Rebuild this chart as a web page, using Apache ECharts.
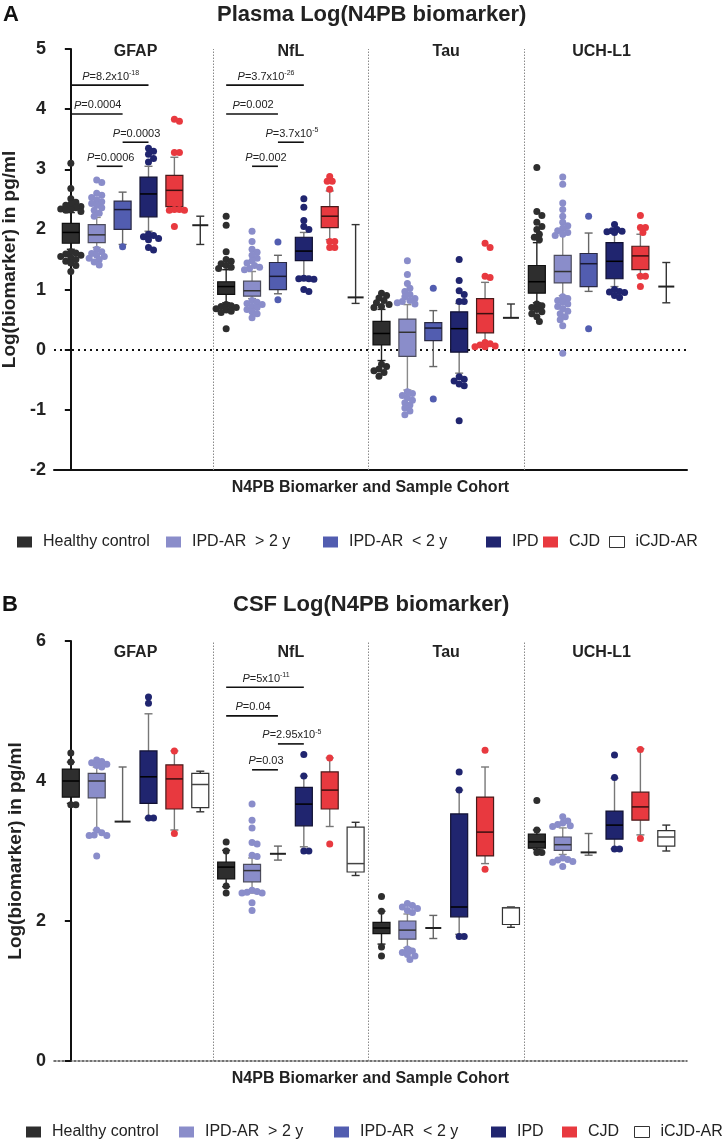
<!DOCTYPE html>
<html><head><meta charset="utf-8">
<script src="https://cdn.jsdelivr.net/npm/echarts@6/dist/echarts.min.js"></script>
<style>html,body{margin:0;padding:0;background:#fff}#c{width:725px;height:1142px}</style>
</head><body><div id="c"></div>
<script>
// ---------------- DATA ----------------
const markers = ['GFAP', 'NfL', 'Tau', 'UCH-L1'];
const cohorts = ['Healthy control', 'IPD-AR  > 2 y', 'IPD-AR  < 2 y', 'IPD', 'CJD', 'iCJD-AR'];
const plasmaTicks = [-2, -1, 0, 1, 2, 3, 4, 5];
const csfTicks = [0, 2, 4, 6];

// box stats per marker: [whiskerLow, Q1, median, Q3, whiskerHigh] (error bars: Q1 = median = Q3 = mean)
const plasmaHealthyBox = [[1.67, 1.77, 1.95, 2.10, 2.28], [0.78, 0.92, 1.05, 1.13, 1.33], [-0.18, 0.08, 0.27, 0.47, 0.67], [0.78, 0.94, 1.13, 1.40, 1.78]];
const plasmaOldBox     = [[1.70, 1.78, 1.91, 2.08, 2.20], [0.85, 0.89, 0.98, 1.14, 1.30], [-0.67, -0.11, 0.29, 0.51, 0.75], [0.90, 1.11, 1.30, 1.57, 2.00]];
const plasmaRecentBox  = [[1.75, 2.00, 2.33, 2.47, 2.62], [0.93, 1.00, 1.22, 1.45, 1.57], [-0.28, 0.15, 0.36, 0.45, 0.65], [0.97, 1.05, 1.43, 1.60, 1.94]];
const plasmaIPDBox     = [[1.97, 2.21, 2.59, 2.87, 3.05], [1.22, 1.48, 1.64, 1.87, 1.95], [-0.39, -0.04, 0.35, 0.63, 0.77], [1.05, 1.18, 1.47, 1.78, 1.95]];
const plasmaCJDBox     = [[2.35, 2.38, 2.65, 2.90, 3.20], [1.83, 2.03, 2.22, 2.38, 2.64], [0.06, 0.28, 0.60, 0.85, 1.12], [1.24, 1.33, 1.56, 1.72, 1.92]];
const plasmaICJDBox    = [[1.75, 2.07, 2.07, 2.07, 2.22], [0.77, 0.87, 0.87, 0.87, 2.08], [0.53, 0.53, 0.53, 0.53, 0.76], [0.78, 1.05, 1.05, 1.05, 1.45]];

const plasmaHealthyDots = [
  [3.10, 2.68, 2.51, 2.45, 2.42, 2.40, 2.38, 2.36, 2.34, 2.33, 2.32, 2.30, 1.63, 1.61, 1.59, 1.57, 1.55, 1.53, 1.50, 1.47, 1.44, 1.40, 1.30],
  [2.22, 2.07, 1.63, 1.50, 1.47, 1.43, 1.40, 1.37, 1.35, 0.75, 0.73, 0.72, 0.70, 0.68, 0.66, 0.64, 0.62, 0.35],
  [0.94, 0.90, 0.86, 0.82, 0.78, 0.75, 0.72, 0.70, -0.24, -0.28, -0.32, -0.35, -0.38, -0.44],
  [3.03, 2.30, 2.23, 2.12, 2.05, 2.00, 1.92, 1.87, 1.83, 0.76, 0.73, 0.70, 0.67, 0.63, 0.60, 0.55, 0.47]];
const plasmaOldDots = [
  [2.82, 2.78, 2.60, 2.57, 2.53, 2.49, 2.46, 2.43, 2.40, 2.36, 2.32, 2.27, 2.22, 1.67, 1.63, 1.60, 1.57, 1.55, 1.52, 1.50, 1.46, 1.41],
  [1.97, 1.80, 1.67, 1.62, 1.57, 1.52, 1.48, 1.44, 1.40, 1.37, 1.35, 1.33, 0.82, 0.79, 0.77, 0.75, 0.72, 0.70, 0.67, 0.63, 0.60, 0.53],
  [1.48, 1.25, 1.10, 1.02, 0.97, 0.92, 0.88, 0.85, 0.82, 0.80, 0.78, 0.76, -0.70, -0.73, -0.76, -0.80, -0.84, -0.88, -0.92, -0.97, -1.02, -1.08],
  [2.87, 2.75, 2.44, 2.33, 2.22, 2.12, 2.06, 2.02, 1.98, 1.95, 1.92, 1.90, 0.88, 0.85, 0.82, 0.79, 0.76, 0.72, 0.68, 0.64, 0.60, 0.55, 0.50, 0.40, -0.06]];
const plasmaRecentDots = [[1.71], [1.79, 0.83], [1.02, -0.82], [2.22, 0.35]];
const plasmaIPDDots = [
  [3.35, 3.30, 3.25, 3.18, 3.12, 1.92, 1.90, 1.88, 1.85, 1.83, 1.70, 1.66],
  [2.51, 2.37, 2.15, 2.05, 2.00, 1.19, 1.18, 1.18, 1.17, 1.00, 0.97],
  [1.50, 1.15, 0.98, 0.92, 0.80, 0.80, -0.45, -0.49, -0.52, -0.57, -0.60, -1.18],
  [2.08, 2.00, 1.98, 1.97, 1.96, 1.95, 1.00, 0.97, 0.96, 0.95, 0.90, 0.87]];
const plasmaCJDDots = [
  [3.83, 3.80, 3.28, 3.28, 2.33, 2.33, 2.32, 2.32, 2.05],
  [2.88, 2.80, 2.80, 2.67, 1.80, 1.80, 1.70, 1.70],
  [1.77, 1.70, 1.22, 1.20, 0.12, 0.10, 0.08, 0.06, 0.05, 0.05],
  [2.23, 2.03, 2.03, 1.95, 1.22, 1.22, 1.05]];
const plasmaICJDDots = [[], [], [], []];

const csfHealthyBox = [[3.68, 3.77, 4.00, 4.17, 4.27], [2.49, 2.60, 2.77, 2.84, 3.01], [1.67, 1.82, 1.90, 1.98, 2.14], [3.02, 3.04, 3.13, 3.24, 3.30]];
const csfOldBox     = [[3.30, 3.76, 4.00, 4.11, 4.20], [2.40, 2.56, 2.72, 2.81, 2.90], [1.62, 1.74, 1.87, 2.00, 2.10], [2.95, 3.01, 3.09, 3.20, 3.33]];
const csfRecentBox  = [[3.42, 3.42, 3.42, 3.42, 4.20], [2.87, 2.96, 2.96, 2.96, 3.07], [1.75, 1.90, 1.90, 1.90, 2.08], [2.94, 2.98, 2.98, 2.98, 3.25]];
const csfIPDBox     = [[3.47, 3.68, 4.06, 4.43, 4.96], [3.06, 3.36, 3.67, 3.91, 4.07], [1.81, 2.06, 2.20, 3.53, 3.87], [3.03, 3.17, 3.37, 3.57, 4.04]];
const csfCJDBox     = [[3.30, 3.60, 4.03, 4.23, 4.43], [3.35, 3.60, 3.87, 4.13, 4.33], [2.82, 2.93, 3.27, 3.77, 4.20], [3.23, 3.44, 3.63, 3.84, 4.46]];
const csfICJDBox    = [[3.56, 3.62, 3.95, 4.11, 4.14], [2.65, 2.70, 2.82, 3.34, 3.41], [1.91, 1.95, 2.19, 2.19, 2.20], [3.00, 3.07, 3.20, 3.29, 3.37]];

const csfHealthyDots = [[4.40, 4.27, 3.66, 3.66], [3.13, 3.00, 2.50, 2.40], [2.35, 2.14, 1.63, 1.50], [3.72, 3.30, 2.98, 2.98]];
const csfOldDots = [
  [4.30, 4.28, 4.26, 4.24, 4.22, 4.20, 3.30, 3.26, 3.23, 3.22, 3.22, 2.93],
  [3.67, 3.44, 3.33, 3.12, 3.10, 2.94, 2.92, 2.44, 2.42, 2.41, 2.40, 2.40, 2.26, 2.15],
  [2.25, 2.22, 2.20, 2.18, 2.15, 2.12, 1.60, 1.57, 1.55, 1.52, 1.50, 1.45],
  [3.49, 3.43, 3.40, 3.38, 3.36, 3.35, 2.90, 2.88, 2.87, 2.85, 2.84, 2.78]];
const csfRecentDots = [[], [], [], []];
const csfIPDDots = [[5.20, 5.11, 3.47, 3.47], [4.38, 4.07, 3.00, 3.00], [4.13, 3.87, 1.78, 1.78], [4.37, 4.05, 3.03, 3.03]];
const csfCJDDots = [[4.43, 3.25], [4.33, 3.10], [4.44, 2.74], [4.45, 3.18]];
const csfICJDDots = [[], [], [], []];

// significance brackets: [fromSlot, toSlot, level, P text, exponent]
const plasmaSig = [[0, 3, 4.40, '8.2x10', '-18'], [0, 2, 3.92, '0.0004', ''], [2, 3, 3.45, '0.0003', ''], [1, 2, 3.05, '0.0006', ''],
                   [6, 9, 4.40, '3.7x10', '-26'], [6, 8, 3.92, '0.002', ''], [8, 9, 3.45, '3.7x10', '-5'], [7, 8, 3.05, '0.002', '']];
const csfSig = [[6, 9, 5.34, '5x10', '-11'], [6, 8, 4.93, '0.04', ''], [8, 9, 4.53, '2.95x10', '-5'], [7, 8, 4.16, '0.03', '']];

// ---------------- STYLE ----------------
const FONT = '"Liberation Sans", Arial, Helvetica, sans-serif';
const fills    = ['#2e2e2e', '#8a8dca', '#525db0', '#20256f', '#e8393f', '#ffffff'];
const strokes  = ['#111111', '#4d4d5e', '#2a2a44', '#111133', '#4a1a1a', '#333333'];
const whiskerC = ['#222222', '#8a8a8a', '#666666', '#777777', '#777777', '#333333'];
const medianC  = ['#000000', '#333333', '#1a1a33', '#000000', '#3a1010', '#444444'];
const X_MIN = -0.65, X_MAX = 23.8, GRID_W = 633;
const PX_X = GRID_W / (X_MAX - X_MIN);
const BOX_W = 17 / PX_X, CAP = 8, MEAN_W = 16, DOT = 7;

const panels = [
  {grid: {left: 54, top: 49, width: GRID_W, height: 421}, ticks: plasmaTicks, yInt: 1,
   boxes: [plasmaHealthyBox, plasmaOldBox, plasmaRecentBox, plasmaIPDBox, plasmaCJDBox, plasmaICJDBox],
   dots: [plasmaHealthyDots, plasmaOldDots, plasmaRecentDots, plasmaIPDDots, plasmaCJDDots, plasmaICJDDots],
   sig: plasmaSig, labelOffset: 3, xLine: {color: '#111', width: 2, type: 'solid'}, zero: true,
   legendTop: 534, legendLefts: [17, 166, 323, 486, 543, 609]},
  {grid: {left: 54, top: 641, width: GRID_W, height: 420}, ticks: csfTicks, yInt: 2,
   boxes: [csfHealthyBox, csfOldBox, csfRecentBox, csfIPDBox, csfCJDBox, csfICJDBox],
   dots: [csfHealthyDots, csfOldDots, csfRecentDots, csfIPDDots, csfCJDDots, csfICJDDots],
   sig: csfSig, labelOffset: 12, xLine: {color: '#444', width: 1.5, type: [2, 2]}, zero: false,
   legendTop: 1124, legendLefts: [26, 179, 334, 491, 562, 634]}
];

// deterministic beeswarm layout (pixel offsets), dots may overlap a little like the original
function swarm(vals, pxY) {
  const placed = [];
  const minD = DOT * 0.72, step = DOT * 0.36, maxOff = 11;
  return vals.map(v => {
    const y = v * pxY;
    let best = 0, bestGap = -1;
    for (let k = 0; k < 80; k++) {
      const cand = k === 0 ? 0 : (k % 2 ? 1 : -1) * Math.ceil(k / 2) * step;
      if (Math.abs(cand) > maxOff) break;
      const gap = placed.reduce((m, p) => Math.min(m, Math.hypot(p[0] - cand, p[1] - y)), Infinity);
      if (gap >= minD) { best = cand; bestGap = gap; break; }
      if (gap > bestGap) { bestGap = gap; best = cand; }
    }
    placed.push([best, y]);
    return best;
  });
}

function ln(x1, y1, x2, y2, stroke, w) {
  return {type: 'line', shape: {x1, y1, x2, y2}, style: {stroke, lineWidth: w}};
}

function boxRenderer(ci) {
  return function (params, api) {
    const x = api.value(0);
    const v = [1, 2, 3, 4, 5].map(k => api.value(k));
    const p = v.map(val => api.coord([x, val]));
    const cx = p[0][0];
    const w = api.size([BOX_W, 0])[0];
    const wc = whiskerC[ci];
    const ch = [];
    if (v[1] === v[3]) {
      ch.push(ln(cx, p[4][1], cx, p[0][1], wc, 1.4));
      ch.push(ln(cx - CAP / 2, p[4][1], cx + CAP / 2, p[4][1], wc, 1.4));
      if (v[0] !== v[2]) ch.push(ln(cx - CAP / 2, p[0][1], cx + CAP / 2, p[0][1], wc, 1.4));
      ch.push(ln(cx - MEAN_W / 2, p[2][1], cx + MEAN_W / 2, p[2][1], '#222', 2));
    } else {
      if (v[4] > v[3]) {
        ch.push(ln(cx, p[4][1], cx, p[3][1], wc, 1.4));
        ch.push(ln(cx - CAP / 2, p[4][1], cx + CAP / 2, p[4][1], wc, 1.4));
      }
      if (v[0] < v[1]) {
        ch.push(ln(cx, p[1][1], cx, p[0][1], wc, 1.4));
        ch.push(ln(cx - CAP / 2, p[0][1], cx + CAP / 2, p[0][1], wc, 1.4));
      }
      ch.push({type: 'rect', shape: {x: cx - w / 2, y: p[3][1], width: w, height: p[1][1] - p[3][1]},
               style: {fill: fills[ci], stroke: strokes[ci], lineWidth: 1.2}});
      ch.push(ln(cx - w / 2, p[2][1], cx + w / 2, p[2][1], medianC[ci], 1.5));
    }
    return {type: 'group', children: ch};
  };
}

function sigRenderer(list) {
  return function (params, api) {
    const a = api.coord([api.value(0), api.value(2)]);
    const b = api.coord([api.value(1), api.value(2)]);
    const item = list[params.dataIndex];
    const txt = '{i|P}{n|=' + item[3] + '}' + (item[4] ? '{s|' + item[4] + '}' : '');
    return {type: 'group', children: [
      ln(a[0], a[1], b[0], b[1], '#111', 1.6),
      {type: 'text', x: (a[0] + b[0]) / 2 + 1, y: a[1] - 8.5,
       style: {text: txt, align: 'center', verticalAlign: 'middle', fill: '#222', fontFamily: FONT,
               rich: {i: {fontStyle: 'italic', fontSize: 11, fontFamily: FONT, lineHeight: 14},
                      n: {fontSize: 11, fontFamily: FONT, lineHeight: 14},
                      s: {fontSize: 7, fontFamily: FONT, verticalAlign: 'top', lineHeight: 8, padding: [0, 0, 5, 0]}}}}
    ]};
  };
}

function labelRenderer(offset) {
  return function (params, api) {
    const pt = api.coord([api.value(0), api.value(1)]);
    return {type: 'text', x: pt[0], y: pt[1] + offset,
            style: {text: markers[params.dataIndex], align: 'center', verticalAlign: 'middle',
                    fontSize: 16, fontWeight: 'bold', fill: '#222', fontFamily: FONT}};
  };
}

const grids = [], xAxes = [], yAxes = [], series = [], legends = [];
panels.forEach((pn, gi) => {
  const yMin = pn.ticks[0], yMax = pn.ticks[pn.ticks.length - 1];
  const pxY = pn.grid.height / (yMax - yMin);
  grids.push(Object.assign({outerBoundsMode: 'none', containLabel: false}, pn.grid));
  xAxes.push({type: 'value', gridIndex: gi, min: X_MIN, max: X_MAX,
    axisLine: {show: true, onZero: false, lineStyle: pn.xLine}, axisTick: {show: false},
    axisLabel: {show: false}, splitLine: {show: false},
    name: 'N4PB Biomarker and Sample Cohort', nameLocation: 'middle', nameGap: 10,
    nameTextStyle: {fontSize: 16, fontWeight: 'bold', color: '#222', fontFamily: FONT, verticalAlign: 'top'}});
  yAxes.push({type: 'value', gridIndex: gi, min: yMin, max: yMax, interval: pn.yInt,
    axisLine: {show: true, lineStyle: {color: '#111', width: 2}},
    axisTick: {show: true, length: 6, lineStyle: {color: '#111', width: 2}},
    axisLabel: {fontSize: 18, fontWeight: 'bold', color: '#222', fontFamily: FONT, margin: 8},
    splitLine: {show: false},
    name: 'Log(biomarker) in pg/ml', nameLocation: 'middle', nameGap: 27,
    nameTextStyle: {fontSize: 19, fontWeight: 'bold', color: '#222', fontFamily: FONT}});

  // boxes
  cohorts.forEach((name, ci) => {
    series.push({type: 'custom', name, xAxisIndex: gi, yAxisIndex: gi,
      itemStyle: {color: fills[ci], borderColor: strokes[ci]},
      renderItem: boxRenderer(ci), z: 3,
      encode: {x: 0, y: [1, 2, 3, 4, 5]},
      data: pn.boxes[ci].map((b, mi) => [mi * 6 + ci].concat(b))});
  });
  // dots
  cohorts.forEach((name, ci) => {
    const pts = [];
    pn.dots[ci].forEach((vals, mi) => {
      const offs = swarm(vals, pxY);
      vals.forEach((v, k) => pts.push([mi * 6 + ci + offs[k] / PX_X, v]));
    });
    const s = {type: 'scatter', name, xAxisIndex: gi, yAxisIndex: gi, symbol: 'circle', symbolSize: DOT,
      itemStyle: {color: fills[ci], opacity: 1}, z: 4, data: pts, silent: true};
    if (ci === 0) {
      const ml = [5.5, 11.5, 17.5].map(x => ({xAxis: x}));
      if (pn.zero) ml.push({yAxis: 0, lineStyle: {color: '#111', type: [2, 4], width: 2.2}});
      s.markLine = {silent: true, symbol: 'none', label: {show: false}, animation: false,
        lineStyle: {color: '#8a8a8a', type: [1.5, 1.5], width: 1}, data: ml, z: 1};
    }
    series.push(s);
  });
  // significance brackets
  series.push({type: 'custom', xAxisIndex: gi, yAxisIndex: gi, z: 5, renderItem: sigRenderer(pn.sig),
    encode: {x: [0, 1], y: 2}, data: pn.sig.map(s => [s[0], s[1], s[2]])});
  // marker group labels
  series.push({type: 'custom', xAxisIndex: gi, yAxisIndex: gi, z: 5, renderItem: labelRenderer(pn.labelOffset),
    encode: {x: 0, y: 1}, data: markers.map((m, mi) => [mi * 6 + 2.5, yMax])});
  // legends
  cohorts.forEach((name, ci) => {
    legends.push({left: pn.legendLefts[ci], top: pn.legendTop, padding: 0, itemWidth: 15, itemHeight: 11,
      icon: 'rect', selectedMode: false,
      textStyle: {fontSize: 16, color: '#222', fontFamily: FONT, padding: [0, 0, 0, 6]},
      data: [{name, itemStyle: {color: fills[ci], borderColor: '#333', borderWidth: ci === 5 ? 1 : 0}}]});
  });
});

const chart = echarts.init(document.getElementById('c'));
chart.setOption({
  animation: false,
  backgroundColor: '#fff',
  title: [
    {text: 'A', left: 3, top: 4, padding: 0, textStyle: {fontSize: 22, fontWeight: 'bold', color: '#111', fontFamily: FONT}},
    {text: 'Plasma Log(N4PB biomarker)', left: 217, top: 4, padding: 0, textStyle: {fontSize: 22, fontWeight: 'bold', color: '#222', fontFamily: FONT}},
    {text: 'B', left: 2, top: 594, padding: 0, textStyle: {fontSize: 22, fontWeight: 'bold', color: '#111', fontFamily: FONT}},
    {text: 'CSF Log(N4PB biomarker)', left: 233, top: 594, padding: 0, textStyle: {fontSize: 22, fontWeight: 'bold', color: '#222', fontFamily: FONT}}
  ],
  legend: legends,
  grid: grids, xAxis: xAxes, yAxis: yAxes, series
});
</script></body></html>
